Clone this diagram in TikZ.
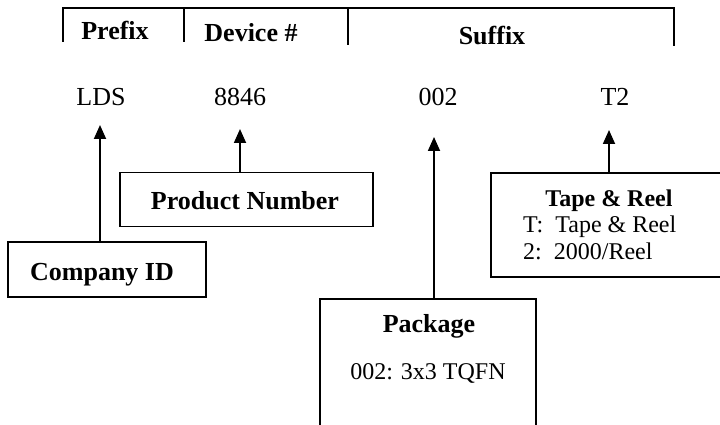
\documentclass[tikz,border=0pt]{standalone}
\usepackage{fontspec}
\setmainfont{Liberation Serif}
\usetikzlibrary{arrows.meta}
\tikzset{
  ln/.style={line width=1.8pt},
  arr/.style={line width=1.8pt,-{Triangle[length=14pt,width=12pt]}},
  bx/.style={draw,line width=1.8pt,rectangle,inner sep=0pt},
  big/.style={font=\fontsize{26}{30}\selectfont,inner sep=0pt,anchor=base},
  bigb/.style={font=\fontsize{26}{30}\selectfont\bfseries,inner sep=0pt,anchor=base},
  mid/.style={font=\fontsize{24}{27}\selectfont,inner sep=0pt,anchor=base},
  midb/.style={font=\fontsize{24}{27}\selectfont\bfseries,inner sep=0pt,anchor=base},
}
\begin{document}
\begin{tikzpicture}[x=1pt,y=1pt]
\useasboundingbox (0,0) rectangle (720,-425);
% header bar
\draw[ln] (63,-42) -- (63,-8) -- (674,-8) -- (674,-46);
\draw[ln] (184,-8) -- (184,-42);
\draw[ln] (348,-8) -- (348,-45);
\node[bigb] (hpre) at (115,-40) {Prefix};
\node[bigb] (hdev) at (251,-42) {Device \#};
\node[bigb] (hsuf) at (492,-45) {Suffix};
% values
\node[big] (lds) at (101,-106) {LDS};
\node[big] (num) at (240,-106) {8846};
\node[big] (pkg) at (438,-106) {002};
\node[big] (tr) at (615,-106) {T2};
\coordinate (ldsTip) at (100,-125);
\coordinate (numTip) at (240,-129);
\coordinate (pkgTip) at (434,-137);
\coordinate (trTip) at (609,-130);
% boxes
\node[bx,minimum width=198pt,minimum height=55pt] (cid) at (107,-269.5) {};
\node[bigb] at (102,-280) {Company ID};
\node[bx,minimum width=253pt,minimum height=54pt] (pn) at (246.5,-199.5) {};
\node[bigb] at (245,-209) {Product Number};
\node[bx,minimum width=250pt,minimum height=104pt] (tbox) at (616,-225) {};
\node[midb] at (609,-206) {Tape \& Reel};
\node[mid,anchor=base west] at (523,-232) {T:\ \ Tape \& Reel};
\node[mid,anchor=base west] at (523,-259) {2:\ \ 2000/Reel};
\node[bx,minimum width=216pt,minimum height=160pt] (pbox) at (428,-379) {};
\node[bigb] at (429,-332) {Package};
\node[mid] at (428,-379) {002: 3x3 TQFN};
% arrows
\draw[arr] (cid.north -| ldsTip) -- (ldsTip);
\draw[arr] (pn.north -| numTip) -- (numTip);
\draw[arr] (pbox.north -| pkgTip) -- (pkgTip);
\draw[arr] (tbox.north -| trTip) -- (trTip);
\end{tikzpicture}
\end{document}
